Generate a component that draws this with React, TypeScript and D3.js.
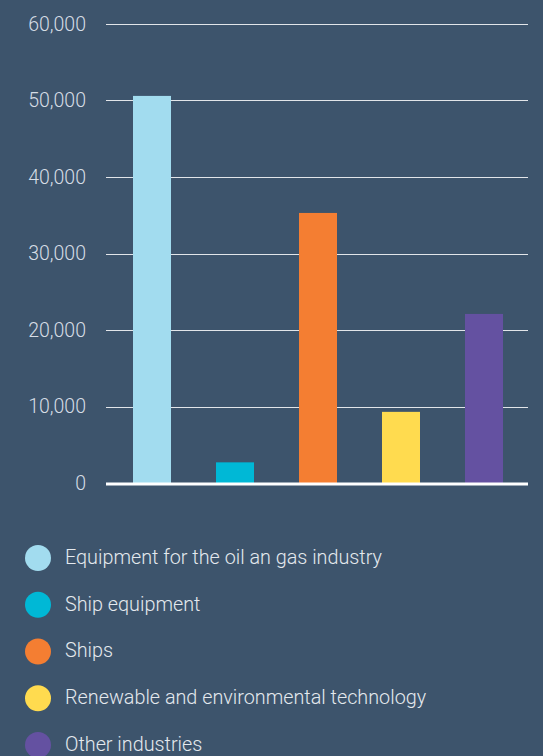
import React from "react";
import * as d3 from "d3";

const categories = [
  "Equipment for the oil an gas industry",
  "Ship equipment",
  "Ships",
  "Renewable and environmental technology",
  "Other industries",
];
const values = [50600, 2700, 35300, 9300, 22100];
const colors = ["#a2dcef", "#00b8d6", "#f47e32", "#ffdb4f", "#6451a1"];
const yTicks = [0, 10000, 20000, 30000, 40000, 50000, 60000];

const W = 543;
const H = 756;
const BG = "#3d546c";
const FONT = "Roboto, 'Noto Sans', sans-serif";

export default function App() {
  const y = d3.scaleLinear().domain([0, 60000]).range([483, 24]);
  const x = d3
    .scaleBand<string>()
    .domain(categories)
    .range([110.5, 525.5])
    .paddingInner(45 / 83)
    .paddingOuter(45 / 166);
  const fmt = d3.format(",");
  const legendY = d3.scalePoint<string>().domain(categories).range([558, 745]);

  return (
    <svg
      width={W}
      height={H}
      style={{ position: "absolute", left: 0, top: 0, display: "block" }}
    >
      <rect x={0} y={0} width={W} height={H} fill={BG} />
      {yTicks.map((t) => (
        <g key={t}>
          {t !== 0 && (
            <line
              x1={106}
              x2={528}
              y1={Math.round(y(t)) + 0.5}
              y2={Math.round(y(t)) + 0.5}
              stroke="#ffffff"
              strokeOpacity={0.85}
              strokeWidth={1}
            />
          )}
          <text
            x={86}
            y={y(t)}
            dy="0.35em"
            textAnchor="end"
            fill="#d6dde5"
            fontFamily={FONT}
            fontWeight={300}
            fontSize={19.5}
          >
            {fmt(t)}
          </text>
        </g>
      ))}
      {categories.map((c, i) => (
        <rect
          key={c}
          x={x(c)}
          y={y(values[i])}
          width={x.bandwidth()}
          height={y(0) - y(values[i])}
          fill={colors[i]}
        />
      ))}
      <line x1={106} x2={528} y1={y(0) + 1} y2={y(0) + 1} stroke="#ffffff" strokeWidth={3} />
      {categories.map((c, i) => (
        <g key={c} transform={`translate(0,${legendY(c)})`}>
          <circle cx={38} cy={0} r={13} fill={colors[i]} />
          <text
            x={65}
            y={0}
            dy="0.3em"
            fill="#e4e9ee"
            fontFamily={FONT}
            fontWeight={300}
            fontSize={19.8}
          >
            {c}
          </text>
        </g>
      ))}
    </svg>
  );
}
